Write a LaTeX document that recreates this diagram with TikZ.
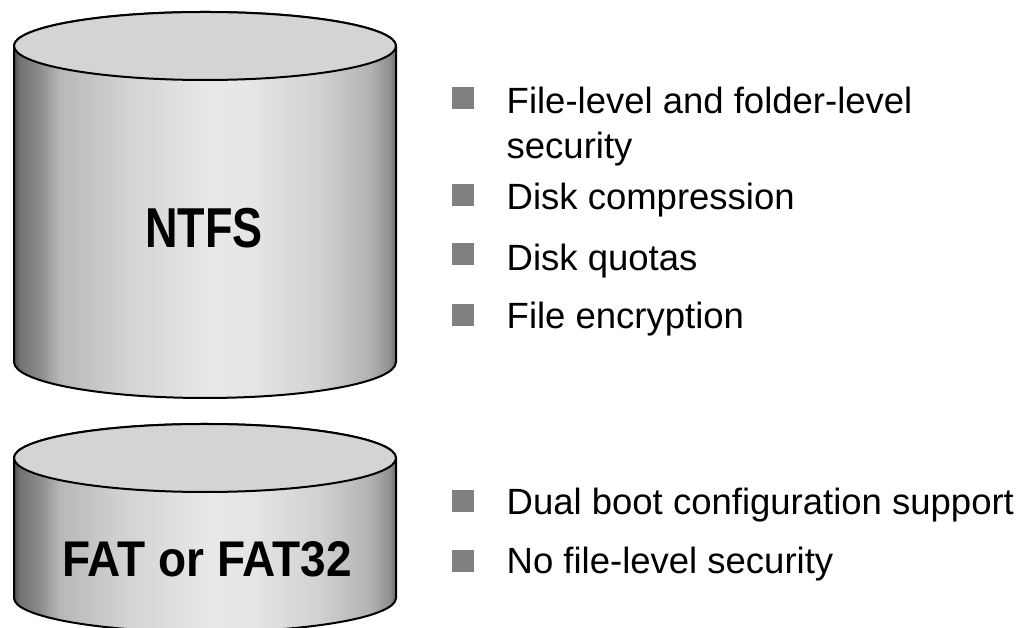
\documentclass[tikz,border=0pt]{standalone}
\usepackage{fontspec}
\setmainfont{Liberation Sans}
\pgfdeclarehorizontalshading{cylshade}{100bp}{%
color(0bp)=(black!68); color(25bp)=(black!68);
color(25.8bp)=(black!55); color(28.4bp)=(black!45); color(31bp)=(black!28);
color(40bp)=(black!17); color(50.7bp)=(black!9); color(56bp)=(black!10);
color(65bp)=(black!18); color(71.6bp)=(black!30); color(74.2bp)=(black!44);
color(75bp)=(black!60); color(100bp)=(black!60)}
\begin{document}
\begin{tikzpicture}[x=1pt,y=1pt,
  cyl/.style={draw=black, line width=2pt, shading=cylshade},
  lid/.style={draw=black, line width=2pt, fill=black!17},
  bul/.style={fill=black!50, minimum size=22pt, inner sep=0pt},
  item/.style={anchor=base west, inner sep=0pt, align=left, font=\fontsize{36.5}{45}\selectfont},
  fslabel/.style={inner sep=0pt, font=\fontsize{45}{54}\selectfont\bfseries}]
\useasboundingbox (0,0) rectangle (1021,628);
\fill[white] (0,0) rectangle (1021,628);
\clip (0,0) rectangle (1021,628);
% NTFS cylinder
\path[cyl] (14,582) -- (14,266) arc[start angle=180,end angle=360,x radius=191,y radius=36]
  -- (396,582) arc[start angle=0,end angle=180,x radius=191,y radius=34] -- cycle;
\path[lid] (205,582) ellipse[x radius=191, y radius=34];
\node[fslabel] (ntfs) at (204,400) {\scalebox{1}[1.25]{NTFS}};
% FAT cylinder
\path[cyl] (14,170) -- (14,30) arc[start angle=180,end angle=360,x radius=191,y radius=34]
  -- (396,170) arc[start angle=0,end angle=180,x radius=191,y radius=34] -- cycle;
\path[lid] (205,170) ellipse[x radius=191, y radius=34];
\node[fslabel, font=\fontsize{46}{54}\selectfont\bfseries] (fat) at (207,69) {\scalebox{1}[1.09]{FAT or FAT32}};
% bullets
\node[bul] (b1) at (463,529.7) {};
\node[bul] (b2) at (463,433) {};
\node[bul] (b3) at (463,374) {};
\node[bul] (b4) at (463,313) {};
\node[bul] (b5) at (463,127) {};
\node[bul] (b6) at (463,67) {};
\node[item] (t1) at (506.5,469.7) {File-level and folder-level\\security};
\node[item] (t2) at (506.5,418.7) {Disk compression};
\node[item] (t3) at (506.5,357.3) {Disk quotas};
\node[item] (t4) at (506.5,299.7) {File encryption};
\node[item] (t5) at (506.5,113) {Dual boot configuration support};
\node[item] (t6) at (506.5,54.7) {No file-level security};
\end{tikzpicture}
\end{document}
